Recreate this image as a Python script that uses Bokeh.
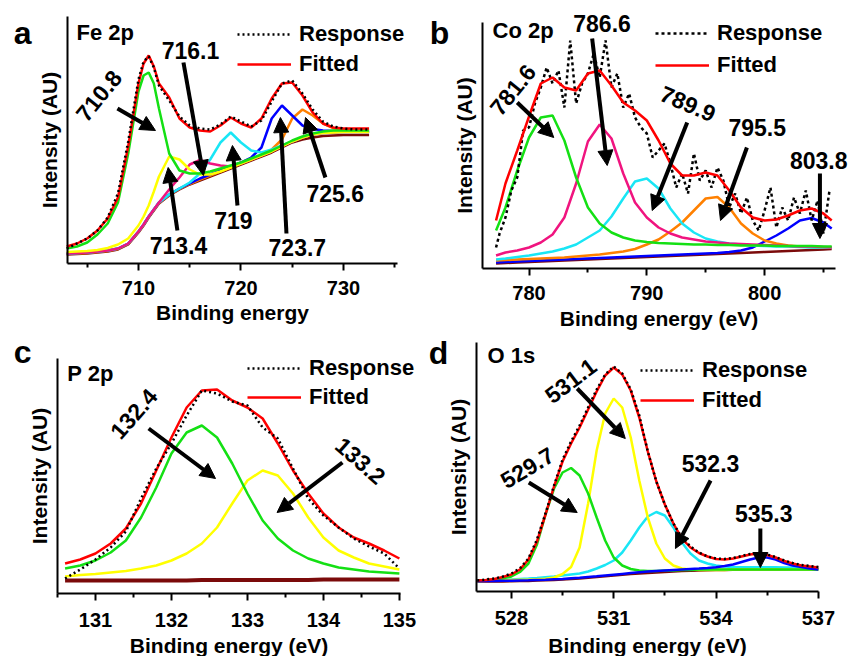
from bokeh.plotting import figure
from bokeh.models import Range1d, FixedTicker, Label, Arrow, NormalHead, Legend, LegendItem
from bokeh.layouts import row, column
from bokeh.embed import file_html
from bokeh.resources import INLINE

FONT = "Liberation Sans"

# ---------------- Panel a : Fe 2p ----------------
A_X = [703, 704, 705, 706, 707, 708, 709, 710, 710.5, 711, 711.5, 712, 713, 714, 715, 716, 717,
       718, 719, 720, 721, 722, 723, 724, 725, 726, 727, 728, 729, 730, 731, 732, 732.5]
A_RESPONSE = [15, 20, 25, 33, 46, 70, 122, 184, 202, 207, 196, 178, 163, 147, 138, 135, 134, 139,
              147, 142, 137, 143, 162, 180, 183, 170, 154, 142, 137, 135, 134, 134, 134]
A_FITTED = [17, 20, 25, 33, 45, 66, 117, 180, 200, 208, 197, 180, 166, 145, 136, 133, 132, 138,
            146, 140, 136, 145, 165, 180, 181, 168, 151, 140, 136, 135, 135, 135, 135]
A_P7108 = [15, 17, 21, 29, 40, 61, 110, 172, 188, 191, 180, 155, 110, 93, 90, 90, 92, 95,
           98, 101, 105, 109, 113, 118, 123, 127, 130, 132, 133, 133, 133, 133, 133]
A_P7134 = [11.5, 12, 12.5, 13.5, 15.5, 19, 25, 38, 47, 58, 72, 87, 107, 104, 94, 89, 89, 92,
           96, 100, 104, 108, 112, 117, 122, 126, 129, 130.5, 131, 131.5, 131.5, 131.5, 131.5]
A_P7161 = [10, 10.5, 11, 12, 13, 15, 20, 32, 39, 47, 54, 61, 74, 86, 99, 103.5, 100, 98,
           97, 100, 104, 108, 112, 117, 122, 126, 129, 130.5, 131, 131.5, 131.5, 131.5, 131.5]
A_P719 = [10, 10.5, 11, 12, 13, 15, 20, 32, 39, 47, 54, 61, 69, 75, 81, 90, 104, 121,
          131, 121, 113, 111, 114, 118, 122, 126, 129, 130.5, 131, 131.5, 131.5, 131.5, 131.5]
A_P7237 = [10, 10.5, 11, 12, 13, 15, 20, 32, 39, 47, 54, 61, 69, 75, 80, 85, 89, 93,
           97, 101, 106, 116, 145, 158, 148, 138, 134.5, 133, 132.5, 132, 132, 132, 132]
A_P7256 = [9.5, 10, 10.5, 11.5, 12.5, 14.5, 19.5, 31.5, 38.5, 46.5, 53.5, 60.5, 68.5, 74.5, 79.5, 84, 88, 92,
           96, 100, 104, 108, 114, 124, 145, 154, 148, 140, 135.5, 133.5, 132.5, 132, 132]
A_BG = [9, 9.5, 10, 11, 12, 14, 19, 31, 38, 46, 53, 60, 68, 74, 79, 83, 87, 91,
        95, 99, 103, 107, 111, 116, 121, 124, 126, 127.5, 128, 128.5, 128.5, 128.5, 128.5]
A_TICKS = [710, 720, 730]
A_MINOR = [705, 715, 725, 735]

# ---------------- Panel b : Co 2p ----------------
B_X = [777.2, 778, 779, 780, 781, 782, 783, 784, 785, 786, 787, 788, 789, 790, 791,
       792, 793, 794, 795, 796, 797, 798, 799, 800, 801, 802, 803, 804, 805, 805.7]
B_FITTED = [48, 85, 118, 152, 185, 191, 181, 178, 195, 198, 183, 166, 158, 148, 128,
            105, 93, 93, 96, 93, 78, 61, 51, 48, 49, 53, 58, 60, 55, 48]
B_P7816 = [38, 61, 98, 131, 151, 153, 128, 91, 61, 45, 36, 31, 28, 26.5, 25.5,
           25, 24.5, 24, 24, 23.5, 23.5, 23, 23, 23, 22.5, 22.5, 22.5, 22.5, 22, 22]
B_P7866 = [13, 16, 18, 21, 26, 34, 51, 85, 127, 144, 130, 95, 66, 51, 41,
           35, 31, 29, 27, 26, 25, 24.5, 24, 23.5, 23, 22.5, 22, 22, 21.5, 21]
B_P7899 = [9, 10, 11.5, 13, 15, 17, 20, 24, 31, 38, 52, 70, 87, 90, 80,
           60, 45, 36, 30, 27, 25, 24, 23, 22.5, 22, 22, 21.5, 21, 21, 21]
B_P7955 = [8, 8.5, 9, 9.5, 10, 10.5, 11, 12, 13, 14, 15.5, 17, 19.5, 24, 29,
           37, 46, 58, 70, 71.5, 61, 45, 35, 28, 25, 23, 22, 21.5, 21, 21]
B_P8038 = [6, 6.5, 7, 7.5, 8, 8.5, 9, 9.5, 10, 10.5, 11, 11.5, 12, 12.5, 13,
           13.5, 14, 14.5, 15, 15.5, 16.5, 18, 21, 27, 33, 40, 48, 50.5, 46, 40]
B_BG = [5, 5.5, 6, 6.5, 7, 7.5, 8, 8.5, 9, 9.5, 10, 10.5, 11, 11.5, 12,
        12.5, 13, 13.5, 14, 14.5, 15, 15.5, 16, 16.5, 17, 17.5, 18, 18.5, 19, 19.5]
B_RX = [777.2, 777.5, 778, 778.5, 779, 779.5, 780, 780.5, 781, 781.5, 782, 782.5, 783, 783.5,
        784, 784.5, 785, 785.5, 786, 786.5, 787, 787.5, 788, 788.5, 789, 789.5, 790, 790.5,
        791, 791.5, 792, 792.5, 793, 793.5, 794, 794.5, 795, 795.5, 796, 796.5, 797, 797.5,
        798, 798.5, 799, 799.5, 800, 800.5, 801, 801.5, 802, 802.5, 803, 803.5, 804, 804.5,
        805, 805.5]
B_RESPONSE = [21, 35, 51, 78, 91, 138, 141, 165, 181, 201, 185, 198, 161, 228,
              165, 185, 195, 215, 191, 228, 181, 195, 161, 175, 151, 141, 135, 111,
              118, 125, 105, 81, 95, 75, 115, 88, 98, 81, 101, 88, 61, 75,
              55, 71, 48, 38, 58, 81, 41, 61, 48, 71, 55, 78, 48, 68,
              35, 77]
B_TICKS = [780, 790, 800]
B_MINOR = [785, 795, 805]

# ---------------- Panel c : P 2p ----------------
C_X = [130.6, 130.8, 131.0, 131.2, 131.4, 131.6, 131.8, 132.0, 132.2, 132.4, 132.6, 132.8,
       133.0, 133.2, 133.4, 133.6, 133.8, 134.0, 134.2, 134.4, 134.6, 134.8, 135.0]
C_RESPONSE = [15, 24, 34, 46, 62, 95, 125, 150, 178, 203, 200, 192,
              188, 166, 155, 125, 95, 78, 66, 55, 47, 40, 25]
C_FITTED = [30, 34, 40, 50, 65, 90, 123, 156, 186, 203, 204, 193,
            186, 175, 150, 123, 100, 80, 66, 56, 50, 43, 35]
C_P1324 = [25, 28, 33, 41, 53, 76, 106, 140, 161, 168, 156, 130,
           100, 73, 55, 43, 35, 30, 26, 24, 22, 21, 20]
C_P1332 = [17, 18.5, 19.5, 21, 22.5, 25, 28, 33, 40, 50, 66, 90,
           113, 123, 118, 100, 76, 56, 43, 36, 30, 27, 24]
C_BG = [13, 13, 13, 13, 13, 13, 13, 13, 13, 13.5, 13.5, 13.5,
        13.5, 13.5, 13.5, 13.5, 13.5, 14, 14, 14, 14, 14, 14]
C_TICKS = [131, 132, 133, 134, 135]
C_MINOR = [130.5, 131.5, 132.5, 133.5, 134.5]

# ---------------- Panel d : O 1s ----------------
D_X = [527, 527.25, 527.5, 527.75, 528, 528.25, 528.5, 528.75, 529, 529.25, 529.5, 529.75,
       530, 530.25, 530.5, 530.75, 531, 531.25, 531.5, 531.75, 532, 532.25, 532.5, 532.75,
       533, 533.25, 533.5, 533.75, 534, 534.25, 534.5, 534.75, 535, 535.25, 535.5, 535.75,
       536, 536.25, 536.5, 536.75, 537]
D_RESPONSE = [11, 12, 13, 15, 18, 23, 33, 52, 78, 106, 132, 150,
              166, 184, 202, 217, 225, 218, 202, 176, 140, 110, 87, 68,
              54, 45, 39, 35, 33, 32.5, 33.5, 35.5, 37.5, 38.5, 37, 34.5,
              31, 28.5, 26.5, 25.5, 24.5]
D_FITTED = [11, 11.5, 12.5, 14.5, 17, 22, 32, 50, 77, 105, 130, 148,
            164, 182, 200, 216, 224, 217, 201, 174, 140, 110, 87, 68,
            53, 44, 38.5, 35, 32.5, 32, 33, 35, 37, 38, 36.5, 34,
            30.5, 28, 26, 25, 24]
D_P5297 = [11, 11.3, 12, 13.3, 15, 19.5, 28, 47, 77, 103, 119, 123.5,
           116, 98, 74, 51, 34, 26, 22.5, 21, 20.5, 20.5, 21, 21,
           21.5, 21.5, 22, 22, 22, 22, 22, 22, 22, 22, 22, 22,
           22, 22, 22, 22, 22]
D_P5311 = [11, 11, 11.2, 11.4, 11.6, 11.8, 12, 12.3, 12.7, 14, 17.5, 24.5,
           44, 88, 141, 178, 193, 184, 154, 111, 74, 48, 33, 26,
           23, 22, 21.5, 21.5, 21.5, 21.5, 22, 22, 22, 22, 22, 22,
           22, 22, 22, 22, 22]
D_P5323 = [10.5, 10.7, 11, 11.5, 12, 12.5, 13, 13.6, 14.3, 15, 16, 17,
           18, 20, 23, 26.5, 31, 39, 51, 64, 75, 79.5, 76, 64,
           49, 38, 31, 28, 26, 25, 24.5, 24.3, 24.3, 24.3, 24.3, 24.2,
           24, 24, 23.8, 23.7, 23.6]
D_P5353 = [10.5, 10.5, 10.6, 10.7, 10.8, 11, 11.2, 11.5, 11.8, 12.2, 12.6, 13.2,
           13.8, 14.5, 15.2, 16, 16.8, 17.6, 18.4, 19.2, 19.9, 20.5, 21, 21.5,
           22, 22.5, 23, 23.6, 24.3, 25.5, 27, 29.5, 32, 34, 34, 32,
           28.5, 26, 24.5, 23, 22]
D_BG = [10, 10, 10, 10.1, 10.2, 10.4, 10.6, 10.9, 11.2, 11.6, 12, 12.5,
        13, 13.7, 14.4, 15.2, 16, 16.7, 17.4, 18, 18.6, 19.1, 19.6, 20,
        20.4, 20.7, 21, 21.2, 21.4, 21.6, 21.7, 21.8, 21.9, 22, 22, 22.1,
        22.1, 22.2, 22.2, 22.2, 22.2]
D_TICKS = [528, 531, 534, 537]
D_MINOR = [529.5, 532.5, 535.5]

GREEN = "#14e014"
YELLOW = "#ffff00"
PINK = "#f0147f"
CYAN = "#19e6f5"
BLUE = "#0000ff"
ORANGE = "#ff8000"
RED = "#ff0000"
BROWN = "#7b0a0a"
LW = 2.5


def make_fig(w, h, xr, yr, xb, yb, ticks, minor, xlabel, tick_off, label_off):
    # the frame covers the whole canvas; axes are pinned inside it
    p = figure(width=w, height=h, x_range=Range1d(*xr), y_range=Range1d(*yr),
               output_backend="svg", toolbar_location=None,
               min_border_left=0, min_border_right=0,
               min_border_top=0, min_border_bottom=0)
    p.grid.visible = False
    p.outline_line_color = None
    p.background_fill_color = "white"
    xa = p.xaxis[0]
    xa.fixed_location = yb[0]
    xa.bounds = xb
    xa.ticker = FixedTicker(ticks=ticks, minor_ticks=minor)
    xa.axis_label = xlabel
    xa.axis_label_text_font = FONT
    xa.axis_label_text_font_style = "bold"
    xa.axis_label_text_font_size = "21px"
    xa.axis_label_text_color = "black"
    xa.axis_label_standoff = label_off
    xa.major_label_text_font = FONT
    xa.major_label_text_font_style = "bold"
    xa.major_label_text_font_size = "20px"
    xa.major_label_text_color = "black"
    xa.major_label_standoff = tick_off
    xa.axis_line_width = 2
    xa.axis_line_color = "black"
    xa.major_tick_line_width = 2
    xa.minor_tick_line_width = 2
    xa.major_tick_line_color = "black"
    xa.minor_tick_line_color = "black"
    xa.major_tick_in = 0
    xa.major_tick_out = 7
    xa.minor_tick_in = 0
    xa.minor_tick_out = 4
    ya = p.yaxis[0]
    ya.fixed_location = xb[0]
    ya.bounds = yb
    ya.ticker = FixedTicker(ticks=[])
    ya.major_label_text_font_size = "0px"
    ya.major_label_standoff = 0
    ya.major_tick_out = 0
    ya.minor_tick_out = 0
    ya.major_tick_in = 0
    ya.minor_tick_in = 0
    ya.axis_label = "Intensity (AU)"
    ya.axis_label_text_font = FONT
    ya.axis_label_text_font_style = "bold"
    ya.axis_label_text_font_size = "21px"
    ya.axis_label_text_color = "black"
    ya.axis_label_standoff = 7
    ya.axis_line_width = 2
    ya.axis_line_color = "black"
    return p


def add_legend(p, resp, fit, loc, spacing):
    lg = Legend(items=[LegendItem(label="Response", renderers=[resp]),
                       LegendItem(label="Fitted", renderers=[fit])],
                location=loc, orientation="vertical",
                glyph_width=54, glyph_height=22, label_height=22,
                label_standoff=8, spacing=spacing, padding=0, margin=0,
                border_line_alpha=0, background_fill_alpha=0,
                label_text_font=FONT, label_text_font_style="bold",
                label_text_font_size="22px", label_text_color="black")
    p.add_layout(lg)


def txt(p, x, y, s, size="23px", angle=0.0, align="center"):
    p.add_layout(Label(x=x, y=y, text=s, angle=angle, text_font=FONT,
                       text_font_style="bold", text_font_size=size,
                       text_color="black", text_align=align,
                       text_baseline="middle"))


def arrow(p, x0, y0, x1, y1):
    p.add_layout(Arrow(end=NormalHead(size=15, fill_color="black", line_color="black",
                                      line_width=1),
                       x_start=x0, y_start=y0, x_end=x1, y_end=y1,
                       line_width=4, line_color="black"))


def resp_line(p, x, y, dash="2 3"):
    return p.line(x, y, line_color="black", line_width=2.5, line_dash=dash)


# ---- panel a
pa = make_fig(427, 330, (696.54, 738.20), (-67, 263), (703.07, 735.27), (0, 247),
              A_TICKS, A_MINOR, "Binding energy", 10, 3)
for ys, c in [(A_BG, BROWN), (A_P7256, ORANGE), (A_P7237, BLUE), (A_P719, CYAN),
              (A_P7161, PINK), (A_P7134, YELLOW), (A_P7108, GREEN)]:
    pa.line(A_X, ys, line_color=c, line_width=LW)
fa = pa.line(A_X, A_FITTED, line_color=RED, line_width=LW)
ra = resp_line(pa, A_X, A_RESPONSE)
add_legend(pa, ra, fa, (237, 253), 4)
txt(pa, 698.7, 231, "a", size="32px")
txt(pa, 703.95, 231, "Fe 2p", size="22px", align="left")
txt(pa, 706.1, 168, "710.8", angle=0.89)
arrow(pa, 707.95, 155, 711.66, 133)
txt(pa, 715.07, 213, "716.1")
arrow(pa, 714.39, 201, 716.34, 88)
txt(pa, 713.9, 18, "713.4")
arrow(pa, 713.8, 33, 712.9, 96)
txt(pa, 719.27, 43, "719")
arrow(pa, 719.66, 58, 719.17, 118)
txt(pa, 725.5, 16, "723.7")
arrow(pa, 724.44, 30, 723.85, 146)
txt(pa, 729.2, 70, "725.6")
arrow(pa, 728.24, 86, 726.3, 146)

# ---- panel b
pb = make_fig(428, 330, (771.38, 807.72), (-62, 268), (776.05, 806.0), (0, 246),
              B_TICKS, B_MINOR, "Binding energy (eV)", 10, 4)
for ys, c in [(B_BG, BROWN), (B_P8038, BLUE), (B_P7955, ORANGE), (B_P7899, CYAN),
              (B_P7866, PINK), (B_P7816, GREEN)]:
    pb.line(B_X, ys, line_color=c, line_width=LW)
rb = resp_line(pb, B_RX, B_RESPONSE, dash="3 3")
fb = pb.line(B_X, B_FITTED, line_color=RED, line_width=LW)
add_legend(pb, rb, fb, (228, 252), 6)
txt(pb, 772.4, 236, "b", size="32px")
txt(pb, 776.9, 238, "Co 2p", size="22px", align="left")
txt(pb, 786.2, 245, "786.6")
arrow(pb, 785.36, 230, 786.64, 103)
txt(pb, 778.6, 179, "781.6", angle=0.89)
arrow(pb, 779.0, 166, 782.1, 131)
txt(pb, 793.5, 165, "789.9", angle=-0.40)
arrow(pb, 793.43, 146, 790.46, 58)
txt(pb, 799.37, 141, "795.5")
arrow(pb, 798.5, 121, 796.26, 48)
txt(pb, 804.6, 108, "803.8")
arrow(pb, 804.7, 95, 804.7, 30)

# ---- panel c
pc = make_fig(427, 326, (129.75, 135.37), (-63, 263), (130.5, 135.01), (0, 235),
              C_TICKS, C_MINOR, "Binding energy (eV)", 12, 4)
for ys, c in [(C_BG, BROWN), (C_P1332, YELLOW), (C_P1324, GREEN)]:
    pc.line(C_X, ys, line_color=c, line_width=LW if c != BROWN else 4)
fc = pc.line(C_X, C_FITTED, line_color=RED, line_width=LW)
rc = resp_line(pc, C_X, C_RESPONSE)
add_legend(pc, rc, fc, (247, 246), 3)
txt(pc, 130.04, 242, "c", size="32px")
txt(pc, 130.63, 220, "P 2p", size="22px", align="left")
txt(pc, 131.5, 180, "132.4", angle=0.85)
arrow(pc, 131.70, 165, 132.58, 115)
txt(pc, 134.49, 133, "133.2", angle=-0.72)
arrow(pc, 134.25, 131, 133.39, 81)

# ---- panel d
pd_ = make_fig(428, 326, (525.54, 538.09), (-65, 261), (526.97, 537.0), (0, 249),
               D_TICKS, D_MINOR, "Binding energy (eV)", 12, 6)
for ys, c in [(D_BG, BROWN), (D_P5323, CYAN), (D_P5311, YELLOW), (D_P5297, GREEN),
              (D_P5353, BLUE)]:
    pd_.line(D_X, ys, line_color=c, line_width=LW)
fd = pd_.line(D_X, D_FITTED, line_color=RED, line_width=LW)
rd = resp_line(pd_, D_X, D_RESPONSE)
add_legend(pd_, rd, fd, (213, 243), 4)
txt(pd_, 525.86, 239, "d", size="32px")
txt(pd_, 527.3, 236, "O 1s", size="22px", align="left")
txt(pd_, 529.73, 211, "531.1", angle=0.65)
arrow(pd_, 529.93, 203, 531.34, 153)
txt(pd_, 528.46, 124, "529.7", angle=0.54)
arrow(pd_, 528.51, 109, 529.93, 79)
txt(pd_, 533.84, 128, "532.3")
arrow(pd_, 533.84, 111, 532.81, 43)
txt(pd_, 535.4, 78, "535.3")
arrow(pd_, 535.30, 63, 535.30, 24)

layout = column(row(pa, pb), row(pc, pd_))
open("out.html", "w").write(file_html(layout, INLINE))
